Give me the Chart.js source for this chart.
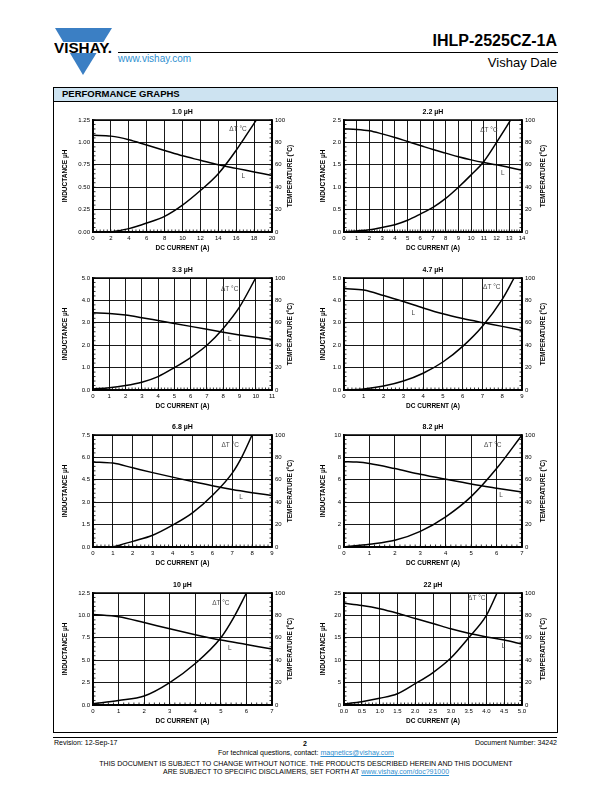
<!DOCTYPE html>
<html>
<head>
<meta charset="utf-8">
<script src="https://cdn.jsdelivr.net/npm/chart.js@4.4.1/dist/chart.umd.min.js"></script>
<style>
  body { margin: 0; background: #fff; }
  #page { position: relative; width: 612px; height: 792px; overflow: hidden; font-family: "Liberation Sans", Arial, sans-serif; color: #000; }
  .t { position: absolute; white-space: nowrap; line-height: 1; }
  canvas { position: absolute; }
  a { color: #2f8fd0; }
</style>
</head>
<body>
<div id="page">
  <!-- logo -->
  <svg class="t" style="left:54px; top:27px" width="60" height="50">
    <polygon points="1,1 58,1 29,48" fill="#3b7fc4"/>
    <rect x="0" y="15" width="60" height="11" fill="#fff"/>
    <text x="0" y="25.5" font-family="Liberation Sans, Arial" font-weight="bold" font-size="14" textLength="58" lengthAdjust="spacingAndGlyphs">VISHAY.</text>
  </svg>
  <div class="t" style="left:118px; top:54px; font-size:10px; color:#2f8fd0">www.vishay.com</div>
  <div style="position:absolute; left:118px; top:52px; width:440px; height:1px; background:#000"></div>
  <div class="t" style="right:55px; top:33px; font-size:16px; font-weight:bold">IHLP-2525CZ-1A</div>
  <div class="t" style="right:55px; top:56px; font-size:13px">Vishay Dale</div>

  <!-- graph box -->
  <div style="position:absolute; left:53px; top:87px; width:503px; height:644px; border:1px solid #000"></div>
  <div style="position:absolute; left:54px; top:88px; width:503px; height:13px; background:#cde3f1; border-bottom:1px solid #000"></div>
  <div class="t" style="left:62px; top:89px; font-size:9.5px; font-weight:bold">PERFORMANCE GRAPHS</div>

  <!-- footer -->
  <div style="position:absolute; left:53px; top:737px; width:504px; height:1px; background:#000"></div>
  <div class="t" style="left:54px; top:739px; font-size:7px">Revision: 12-Sep-17</div>
  <div class="t" style="left:303px; top:740px; font-size:7px; font-weight:bold">2</div>
  <div class="t" style="right:55px; top:739px; font-size:7px">Document Number: 34242</div>
  <div class="t" style="left:0; width:612px; text-align:center; top:749px; font-size:7px">For technical questions, contact: <a href="#">magnetics@vishay.com</a></div>
  <div class="t" style="left:0; width:612px; text-align:center; top:760px; font-size:7px">THIS DOCUMENT IS SUBJECT TO CHANGE WITHOUT NOTICE. THE PRODUCTS DESCRIBED HEREIN AND THIS DOCUMENT</div>
  <div class="t" style="left:0; width:612px; text-align:center; top:768px; font-size:7px">ARE SUBJECT TO SPECIFIC DISCLAIMERS, SET FORTH AT <a href="#">www.vishay.com/doc?91000</a></div>
</div>

<script>
// 1.0 uH
const amps1L = [0, 2, 4, 6, 8, 10, 12, 14, 16, 18, 20];
const ind1 = [1.08, 1.07, 1.03, 0.97, 0.91, 0.85, 0.80, 0.75, 0.71, 0.67, 0.63];
const amps1T = [2, 4, 6, 8, 10, 12, 14, 16, 17, 18, 18.25];
const temp1 = [0, 3, 8, 14, 24, 37, 52, 73, 85, 97, 100];

// 2.2 uH
const amps2L = [0, 1, 2, 3, 4, 5, 6, 7, 8, 9, 10, 11, 12, 13, 14];
const ind2 = [2.30, 2.29, 2.26, 2.19, 2.11, 2.02, 1.93, 1.84, 1.76, 1.68, 1.61, 1.55, 1.50, 1.44, 1.38];
const amps2T = [0, 1, 2, 3, 4, 5, 6, 7, 8, 9, 10, 11, 12, 13, 13.1];
const temp2 = [0, 1, 2, 4, 6.5, 10.5, 16, 22, 30, 40, 51, 63, 80, 98, 100];

// 3.3 uH
const amps3L = [0, 1, 2, 3, 4, 5, 6, 7, 8, 9, 10, 11];
const ind3 = [3.45, 3.42, 3.35, 3.23, 3.10, 2.97, 2.84, 2.71, 2.58, 2.46, 2.35, 2.25];
const amps3T = [0, 1, 2, 3, 4, 5, 6, 7, 8, 9, 10];
const temp3 = [1, 2, 4, 7, 12, 20, 29, 40, 55, 74, 100];

// 4.7 uH
const amps4L = [0, 1, 2, 3, 4, 5, 6, 7, 8, 9];
const ind4 = [4.53, 4.46, 4.22, 3.95, 3.66, 3.40, 3.19, 3.01, 2.84, 2.66];
const amps4T = [0, 1, 2, 3, 4, 5, 6, 7, 8, 8.6];
const temp4 = [0, 1, 3.5, 8, 15, 25, 39, 57, 81, 100];

// 6.8 uH
const amps5L = [0, 1, 2, 3, 4, 5, 6, 7, 8, 9];
const ind5 = [5.70, 5.62, 5.30, 4.98, 4.68, 4.38, 4.10, 3.85, 3.64, 3.45];
const amps5T = [1, 2, 3, 4, 5, 6, 7, 7.5, 8];
const temp5 = [0, 5, 10.5, 19.5, 30.5, 46, 66, 81, 100];

// 8.2 uH
const amps6L = [0, 0.5, 1, 2, 3, 4, 5, 6, 7];
const ind6 = [7.62, 7.58, 7.45, 7.00, 6.50, 6.05, 5.62, 5.25, 4.90];
const amps6T = [0, 1, 2, 3, 4, 5, 6, 7];
const temp6 = [0, 2.5, 6, 14, 27, 45, 70, 100];

// 10 uH
const amps7L = [0, 1, 2, 3, 4, 5, 6, 7];
const ind7 = [10.1, 9.85, 9.2, 8.5, 7.85, 7.25, 6.75, 6.25];
const amps7T = [0, 1, 2, 3, 4, 5, 5.5, 6];
const temp7 = [1, 4, 8, 20, 37, 60, 78, 100];

// 22 uH
const amps8L = [0, 0.5, 1, 1.5, 2, 2.5, 3, 3.5, 4, 4.5, 5];
const ind8 = [22.7, 22.2, 21.5, 20.5, 19.3, 18.2, 17.0, 16.0, 15.2, 14.5, 13.6];
const amps8T = [0, 0.5, 1, 1.5, 2, 2.5, 3, 3.5, 4, 4.3];
const temp8 = [1, 3, 6, 10, 19, 29, 42, 60, 80, 100];

// axis ranges per graph: x max/step/decimals, left y max/step/decimals
const graphs = [
  { title: '1.0 µH', xMax: 20, xStep: 2, xDec: 0, yMax: 1.25, yStep: 0.25, yDec: 2, lA: amps1L, lV: ind1, tA: amps1T, tV: temp1, dtAt: [16.2, 1.15], lAt: [16.8, 0.62] },
  { title: '2.2 µH', xMax: 14, xStep: 1, xDec: 0, yMax: 2.5, yStep: 0.5, yDec: 1, lA: amps2L, lV: ind2, tA: amps2T, tV: temp2, dtAt: [11.4, 2.28], lAt: [12.5, 1.32] },
  { title: '3.3 µH', xMax: 11, xStep: 1, xDec: 0, yMax: 5, yStep: 1, yDec: 1, lA: amps3L, lV: ind3, tA: amps3T, tV: temp3, dtAt: [8.4, 4.5], lAt: [8.4, 2.26] },
  { title: '4.7 µH', xMax: 9, xStep: 1, xDec: 0, yMax: 5, yStep: 1, yDec: 1, lA: amps4L, lV: ind4, tA: amps4T, tV: temp4, dtAt: [7.47, 4.58], lAt: [3.5, 3.45] },
  { title: '6.8 µH', xMax: 9, xStep: 1, xDec: 0, yMax: 7.5, yStep: 1.5, yDec: 1, lA: amps5L, lV: ind5, tA: amps5T, tV: temp5, dtAt: [6.9, 6.83], lAt: [7.45, 3.35] },
  { title: '8.2 µH', xMax: 7, xStep: 1, xDec: 0, yMax: 10, yStep: 2, yDec: 0, lA: amps6L, lV: ind6, tA: amps6T, tV: temp6, dtAt: [5.85, 9.1], lAt: [6.18, 4.6] },
  { title: '10 µH', xMax: 7, xStep: 1, xDec: 0, yMax: 12.5, yStep: 2.5, yDec: 1, lA: amps7L, lV: ind7, tA: amps7T, tV: temp7, dtAt: [5.0, 11.4], lAt: [5.35, 6.35] },
  { title: '22 µH', xMax: 5, xStep: 0.5, xDec: 1, yMax: 25, yStep: 5, yDec: 0, lA: amps8L, lV: ind8, tA: amps8T, tV: temp8, dtAt: [3.73, 23.8], lAt: [4.48, 13.2] }
];

const plotLefts = [93, 344];
const plotWidths = [179, 178];
const plotTops = [120, 278, 435, 593];
const plotHeight = 112;
const SIDE = 32, TOP = 16, BOTTOM = 26;

Chart.defaults.font.family = '"Liberation Sans", Arial, sans-serif';
Chart.defaults.color = '#000';

// minor ticks, frame, curve labels and right axis title
const decor = {
  id: 'decor',
  afterDraw(chart, args, o) {
    const { ctx, chartArea: a, scales } = chart;
    const x = scales.x, y = scales.y, yT = scales.yT;
    ctx.save();
    ctx.strokeStyle = '#000';
    ctx.lineWidth = 0.8;
    ctx.beginPath();
    for (let v = 0; v <= x.max + 1e-9; v += o.xStep / 5) {
      const px = x.getPixelForValue(v);
      ctx.moveTo(px, a.bottom); ctx.lineTo(px, a.bottom - 2.5);
    }
    for (let v = 0; v <= y.max + 1e-9; v += o.yStep / 5) {
      const py = y.getPixelForValue(v);
      ctx.moveTo(a.left, py); ctx.lineTo(a.left + 2.5, py);
    }
    for (let v = 0; v <= 100; v += 4) {
      const py = yT.getPixelForValue(v);
      ctx.moveTo(a.right, py); ctx.lineTo(a.right - 2.5, py);
    }
    ctx.stroke();
    ctx.lineWidth = 1.5;
    ctx.strokeRect(a.left, a.top, a.right - a.left, a.bottom - a.top);

    ctx.fillStyle = '#444';
    ctx.font = '6.5px "Liberation Sans", Arial';
    ctx.textAlign = 'center';
    ctx.textBaseline = 'middle';
    ctx.fillText('\u0394T \u00B0C', x.getPixelForValue(o.dtAt[0]), y.getPixelForValue(o.dtAt[1]));
    ctx.fillText('L', x.getPixelForValue(o.lAt[0]), y.getPixelForValue(o.lAt[1]));

    ctx.fillStyle = '#000';
    ctx.font = 'bold 6.5px "Liberation Sans", Arial';
    ctx.translate(a.right + o.rightGap, (a.top + a.bottom) / 2);
    ctx.rotate(-Math.PI / 2);
    ctx.fillText('TEMPERATURE (\u00B0C)', 0, 0);
    ctx.restore();
  }
};

const page = document.getElementById('page');

graphs.forEach((g, i) => {
  const col = i % 2, row = Math.floor(i / 2);
  const left = plotLefts[col], top = plotTops[row];
  const w = plotWidths[col], h = plotHeight;

  const canvas = document.createElement('canvas');
  canvas.width = w + 2 * SIDE;
  canvas.height = h + TOP + BOTTOM;
  canvas.style.left = (left - SIDE) + 'px';
  canvas.style.top = (top - TOP) + 'px';
  page.appendChild(canvas);

  const line = { borderColor: '#000', borderWidth: 1.5, pointRadius: 0, cubicInterpolationMode: 'monotone', fill: false };

  const chart = new Chart(canvas.getContext('2d'), {
    type: 'line',
    data: {
      datasets: [
        Object.assign({ data: g.lA.map((v, k) => ({ x: v, y: g.lV[k] })), yAxisID: 'y' }, line),
        Object.assign({ data: g.tA.map((v, k) => ({ x: v, y: g.tV[k] })), yAxisID: 'yT' }, line)
      ]
    },
    options: {
      responsive: false,
      animation: false,
      devicePixelRatio: 1,
      layout: { padding: 0 },
      plugins: {
        legend: { display: false },
        tooltip: { enabled: false },
        title: {
          display: true,
          text: g.title,
          color: '#000',
          font: { size: 7, weight: 'bold' },
          padding: { top: 4.3, bottom: 3.3 }
        },
        decor: { xStep: g.xStep, yStep: g.yStep, dtAt: g.dtAt, lAt: g.lAt, rightGap: col ? 21 : 18 }
      },
      scales: {
        x: {
          type: 'linear',
          min: 0,
          max: g.xMax,
          afterFit: s => { s.height = BOTTOM; },
          ticks: { stepSize: g.xStep, autoSkip: false, maxRotation: 0, padding: 2.5, font: { size: 6 }, callback: v => v.toFixed(g.xDec) },
          grid: { color: '#000', lineWidth: 0.9, drawTicks: false },
          border: { color: '#000', width: 1.5 },
          title: { display: true, text: 'DC CURRENT (A)', font: { size: 6.5, weight: 'bold' }, padding: { top: 0, bottom: 6.1 } }
        },
        y: {
          position: 'left',
          min: 0,
          max: g.yMax,
          afterFit: s => { s.width = SIDE; },
          ticks: { stepSize: g.yStep, padding: 3, font: { size: 6 }, callback: v => v.toFixed(g.yDec) },
          grid: { color: '#000', lineWidth: 0.9, drawTicks: false },
          border: { color: '#000', width: 1.5 },
          title: { display: true, text: 'INDUCTANCE µH', font: { size: 6.5, weight: 'bold' }, padding: { top: col ? 7 : 0, bottom: 0 } }
        },
        yT: {
          position: 'right',
          min: 0,
          max: 100,
          afterFit: s => { s.width = SIDE; },
          ticks: { stepSize: 20, padding: 3, font: { size: 6 } },
          grid: { display: false, drawTicks: false },
          border: { color: '#000', width: 1.5 }
        }
      }
    },
    plugins: [decor]
  });

  // line the plot area up with the reference position
  const a = chart.chartArea;
  canvas.style.left = (left - a.left) + 'px';
  canvas.style.top = (top - a.top) + 'px';
});
</script>
</body>
</html>
